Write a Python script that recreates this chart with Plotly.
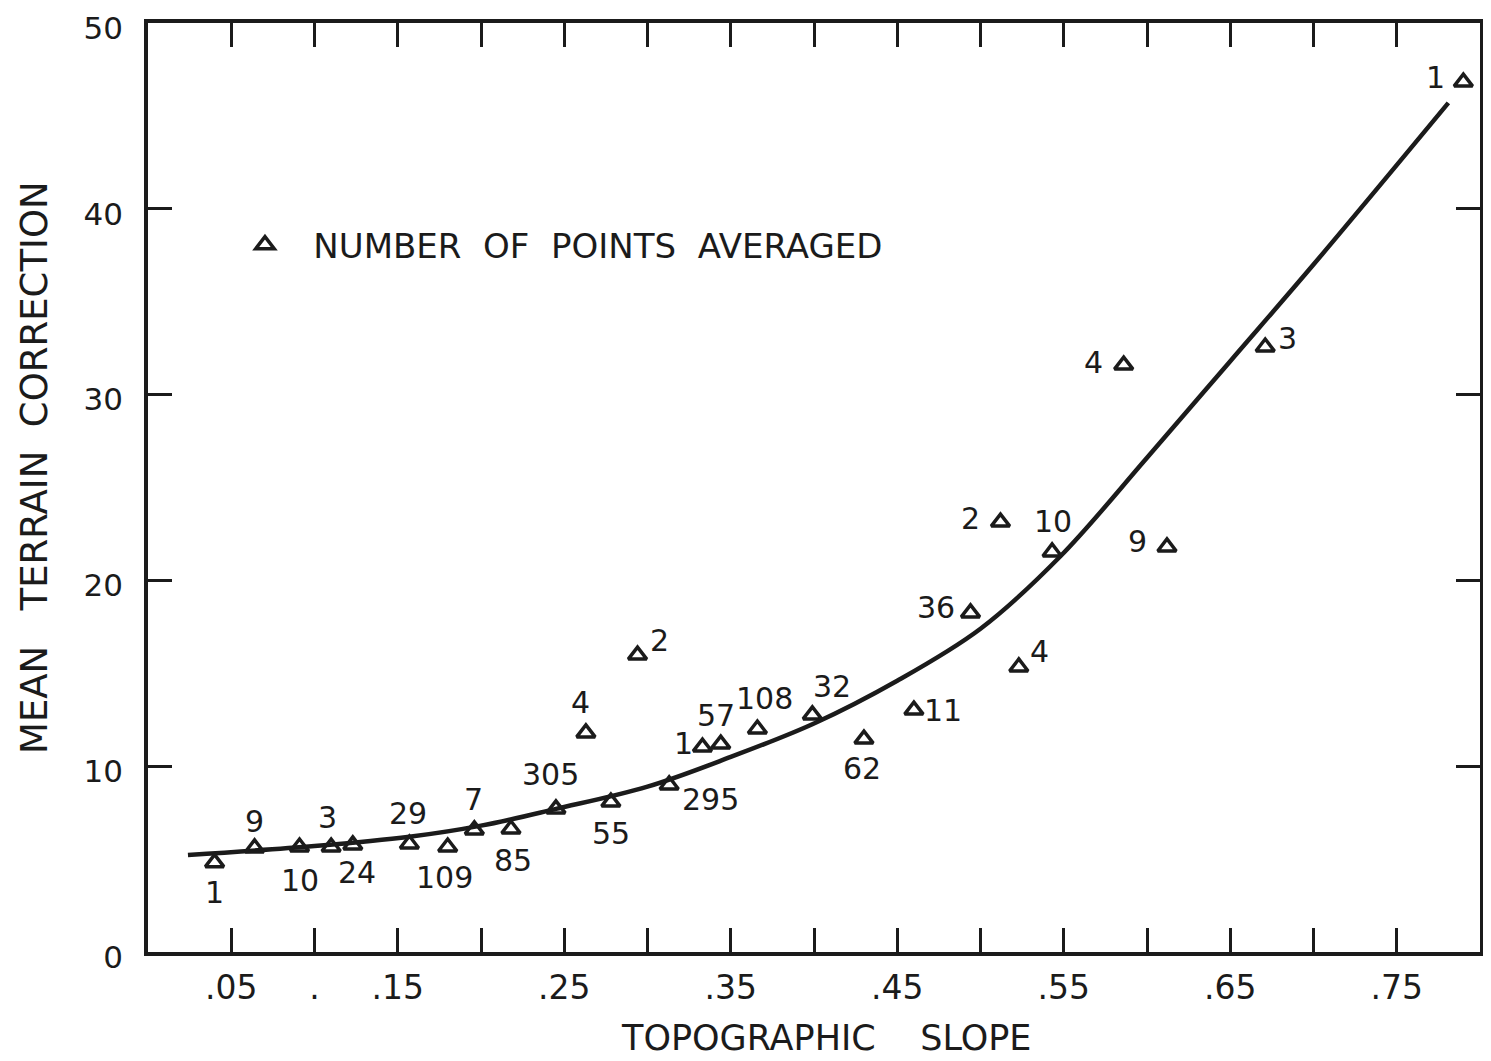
import plotly.graph_objects as go

# ---- data ----
slope = [0.040, 0.064, 0.091, 0.110, 0.123, 0.157, 0.180, 0.196, 0.218, 0.245,
         0.263, 0.278, 0.294, 0.313, 0.333, 0.344, 0.366, 0.399, 0.430, 0.460,
         0.494, 0.512, 0.523, 0.543, 0.586, 0.612, 0.671, 0.790]
correction = [4.81, 5.60, 5.65, 5.65, 5.76, 5.81, 5.65, 6.57, 6.62, 7.70,
              11.79, 8.07, 15.98, 8.99, 11.03, 11.19, 12.00, 12.76, 11.46, 13.02,
              18.25, 23.14, 15.34, 21.53, 31.59, 21.80, 32.56, 46.82]
n_points = ["1", "9", "10", "3", "24", "29", "109", "7", "85", "305",
            "4", "55", "2", "295", "1", "57", "108", "32", "62", "11",
            "36", "2", "4", "10", "4", "9", "3", "1"]

curve_slope = [0.024, 0.100, 0.157, 0.200, 0.245, 0.300, 0.350, 0.400, 0.450,
               0.500, 0.548, 0.600, 0.650, 0.700, 0.781]
curve_corr = [5.22, 5.70, 6.20, 6.80, 7.70, 8.90, 10.5, 12.3, 14.6,
              17.4, 21.3, 26.6, 31.8, 37.0, 45.7]

x_tick_vals = [0.05, 0.10, 0.15, 0.20, 0.25, 0.30, 0.35, 0.40, 0.45, 0.50,
               0.55, 0.60, 0.65, 0.70, 0.75]
x_tick_text = [".05", ".", ".15", "", ".25", "", ".35", "", ".45", "",
               ".55", "", ".65", "", ".75"]
y_tick_vals = [0, 10, 20, 30, 40, 50]
y_tick_text = ["0", "10", "20", "30", "40", "50"]

# ---- label placement (pixel offsets from each triangle) ----
label_offsets = [(0, -30), (0, 26), (0, -33), (-4, 30), (4, -28), (-1, 31), (-3, -30),
                 (-1, 30), (2, -31), (-5, 34), (-5, 30), (0, -31), (22, 15), (41, -15),
                 (-19, 4), (-5, 29), (7, 31), (20, 28), (-2, -29), (29, 0), (-35, 5),
                 (-30, 4), (21, 15), (1, 30), (-30, 3), (-29, 5), (22, 9), (-28, 5)]

INK = "#1b1b1b"
FONT = "DejaVu Sans"
NB = "\u00a0"

fig = go.Figure()
fig.add_trace(go.Scatter(
    x=curve_slope, y=curve_corr, mode="lines",
    line=dict(color=INK, width=4.5, shape="spline", smoothing=1.0),
    showlegend=False, hoverinfo="skip"))
fig.add_trace(go.Scatter(
    x=slope, y=correction, mode="markers",
    marker=dict(symbol="triangle-up-open", size=16, color=INK,
                line=dict(width=3.5, color=INK)),
    name=NB * 2 + "\u2009NUMBER" + NB * 2 + "OF" + NB * 2 + "POINTS" + NB * 2 + "AVERAGED",
    showlegend=True))

for xi, yi, n, (dx, dy) in zip(slope, correction, n_points, label_offsets):
    fig.add_annotation(x=xi, y=yi, text=n, showarrow=False, xshift=dx, yshift=dy,
                       font=dict(family=FONT, size=30, color=INK))

fig.add_annotation(xref="paper", yref="paper", x=0.509, y=-0.0926,
                   text="TOPOGRAPHIC" + NB * 3 + " SLOPE", showarrow=False,
                   xanchor="center", yanchor="middle",
                   font=dict(family=FONT, size=35, color=INK))
fig.add_annotation(xref="paper", yref="paper", x=-0.0848, y=0.521,
                   text="MEAN" + NB * 2 + " TERRAIN" + NB + " CORRECTION",
                   showarrow=False, textangle=-90,
                   xanchor="center", yanchor="middle",
                   font=dict(family=FONT, size=37, color=INK))

axis_common = dict(showline=True, linecolor=INK, linewidth=3.5, mirror="ticks",
                   ticks="inside", ticklen=24, tickwidth=3, tickcolor=INK,
                   showgrid=False, zeroline=False, ticklabeloverflow="allow",
                   automargin=False)

fig.update_xaxes(range=[0, 0.8], tickmode="array", tickvals=x_tick_vals,
                 ticktext=x_tick_text, ticklabelstandoff=4,
                 tickfont=dict(family=FONT, size=33, color=INK), **axis_common)
fig.update_yaxes(range=[0, 50], tickmode="array", tickvals=y_tick_vals,
                 ticktext=y_tick_text, ticklabelstandoff=15, ticklabelshift=5,
                 tickfont=dict(family=FONT, size=31, color=INK), **axis_common)

fig.update_layout(
    width=1483, height=1053,
    margin=dict(l=140, r=11, t=15, b=109, autoexpand=False),
    paper_bgcolor="white", plot_bgcolor="white",
    font=dict(family=FONT, color=INK),
    legend=dict(x=0.0728, y=0.761, xanchor="left", yanchor="middle",
                bgcolor="rgba(0,0,0,0)", itemsizing="trace",
                font=dict(family=FONT, size=34, color=INK)),
)

fig.write_html("out.html")
